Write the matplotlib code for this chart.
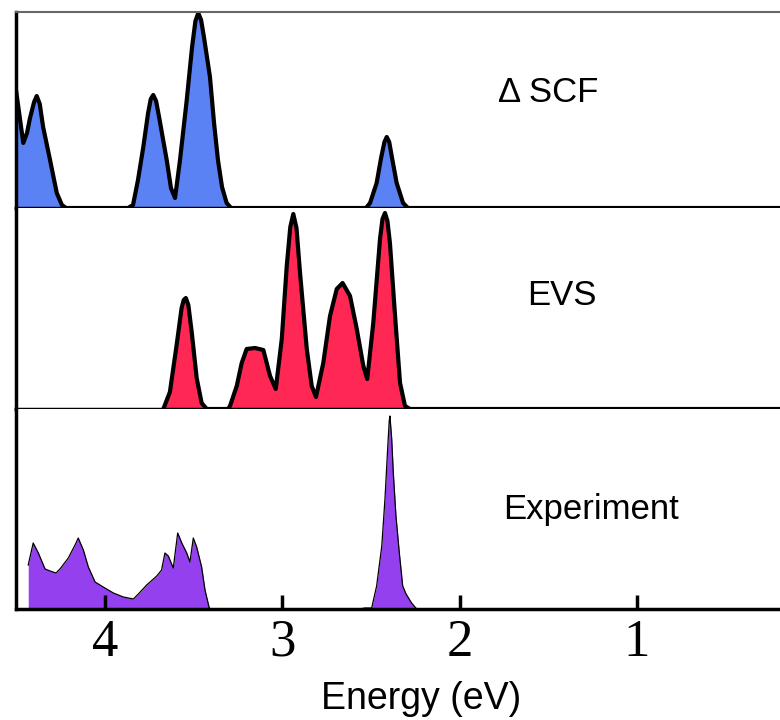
import matplotlib.pyplot as plt

# energies (eV) and intensities (arb. units, panel pixels above baseline)
scf_e = [4.502, 4.461, 4.440, 4.423, 4.400, 4.385, 4.368, 4.349, 4.310, 4.272, 4.243, 4.220,
         3.870, 3.842, 3.814, 3.784, 3.757, 3.742, 3.728, 3.712, 3.695, 3.652, 3.628, 3.605,
         3.577, 3.539, 3.509, 3.490, 3.474, 3.458, 3.442, 3.408, 3.385, 3.363, 3.340, 3.314, 3.289,
         2.528, 2.505, 2.468, 2.443, 2.424, 2.411, 2.397, 2.381, 2.355, 2.319, 2.291, 0.193]
scf_i = [118, 65, 75, 90, 106, 112, 104, 81, 48, 15, 3, 0,
         0, 3, 28, 61, 95, 109, 113, 107, 91, 48, 20, 10,
         48, 108, 161, 187, 195, 188, 171, 131, 85, 48, 21, 5, 0,
         0, 5, 25, 50, 66, 71, 66, 50, 25, 5, 0, 0]

evs_e = [3.671, 3.634, 3.596, 3.568, 3.556, 3.544, 3.530, 3.511, 3.483, 3.455, 3.426,
         3.306, 3.295, 3.257, 3.229, 3.201, 3.154, 3.107, 3.069, 3.037,
         3.003, 2.975, 2.955, 2.938, 2.920, 2.900, 2.862, 2.834, 2.810,
         2.769, 2.731, 2.693, 2.660, 2.618, 2.580, 2.543, 2.521,
         2.487, 2.449, 2.435, 2.421, 2.407, 2.393, 2.364, 2.336, 2.308, 2.280, 0.193]
evs_i = [0, 17, 64, 101, 109, 111, 104, 77, 31, 6, 0,
         0, 3, 23, 46, 60, 61, 59, 33, 20,
         70, 143, 182, 195, 181, 136, 60, 23, 12,
         46, 93, 120, 126, 113, 80, 43, 30,
         86, 170, 190, 196, 188, 166, 93, 26, 3, 0, 0]

exp_e = [4.433, 4.433, 4.405, 4.376, 4.338, 4.310, 4.276, 4.254, 4.207, 4.169, 4.151,
         4.122, 4.094, 4.056, 4.010, 3.953, 3.897, 3.840, 3.812, 3.765, 3.708, 3.681,
         3.662, 3.643, 3.615, 3.590, 3.567, 3.539, 3.521, 3.502, 3.483, 3.455, 3.436,
         3.412, 3.402, 2.562, 2.534, 2.496, 2.468, 2.439, 2.421, 2.408, 2.397, 2.393,
         2.383, 2.374, 2.359, 2.340, 2.321, 2.302, 2.271, 2.242, 0.193]
exp_i = [0, 44, 66, 56, 40, 38, 36, 40, 51, 64, 71,
         59, 42, 27, 22, 16, 12, 10, 15, 24, 33, 39,
         56, 53, 41, 76, 66, 56, 47, 71, 62, 42, 19,
         1, 0, 0, 1, 1, 23, 63, 110, 153, 188, 193,
         170, 136, 93, 56, 23, 15, 6, 0, 0]

ticks = [4, 3, 2, 1]

fig = plt.figure(figsize=(7.8, 7.2), dpi=100)
L, W = 16 / 780, 764 / 780


def rect(top, bot):
    return [L, 1 - bot / 720, W, (bot - top) / 720]


ax1 = fig.add_axes(rect(12, 208))
ax2 = fig.add_axes(rect(208, 409))
ax3 = fig.add_axes(rect(409, 609))

ax1.fill_between(scf_e, scf_i, color='#5A82F5', lw=0)
ax1.plot(scf_e, scf_i, color='k', lw=3, solid_joinstyle='round')
ax1.set_ylim(0, 196)

ax2.fill_between(evs_e, evs_i, color='#FF2855', lw=0)
ax2.plot(evs_e, evs_i, color='k', lw=3, solid_joinstyle='round')
ax2.set_ylim(0, 201)

ax3.fill_between(exp_e, exp_i, color='#9440EE', lw=0)
ax3.plot(exp_e[1:], exp_i[1:], color='k', lw=0.9)
ax3.set_ylim(0, 200)

lab = dict(family=['Liberation Sans', 'DejaVu Sans'], fontsize=25, ha='center', va='baseline')
ax1.text(1.501, 106, '\u0394 SCF', **lab)
ax2.text(1.422, 104, 'EVS', **lab)
ax3.text(1.259, 90, 'Experiment', **lab)

for ax in (ax1, ax2, ax3):
    ax.set_xlim(4.502, 0.193)
    ax.spines['right'].set_visible(False)
    ax.spines['left'].set_linewidth(2.5)
    ax.spines['bottom'].set_linewidth(2.5)
    ax.set_yticks([])
for ax in (ax1, ax2):
    ax.set_xticks([])
ax1.spines['top'].set_color('#666666')
ax1.spines['top'].set_linewidth(1.5)
ax2.spines['top'].set_visible(False)
ax3.spines['top'].set_visible(False)

ax3.set_xticks(ticks)
ax3.set_xticklabels([str(t) for t in ticks], family=['Liberation Serif', 'DejaVu Serif'], fontsize=38)
ax3.tick_params(axis='x', direction='in', length=10, width=2.5, pad=7)

fig.text(421 / 780, 1 - 699 / 720, 'Energy (eV)', family=['Liberation Sans', 'DejaVu Sans'],
         fontsize=27, ha='center', va='center')

fig.savefig('out.png', dpi=100)
